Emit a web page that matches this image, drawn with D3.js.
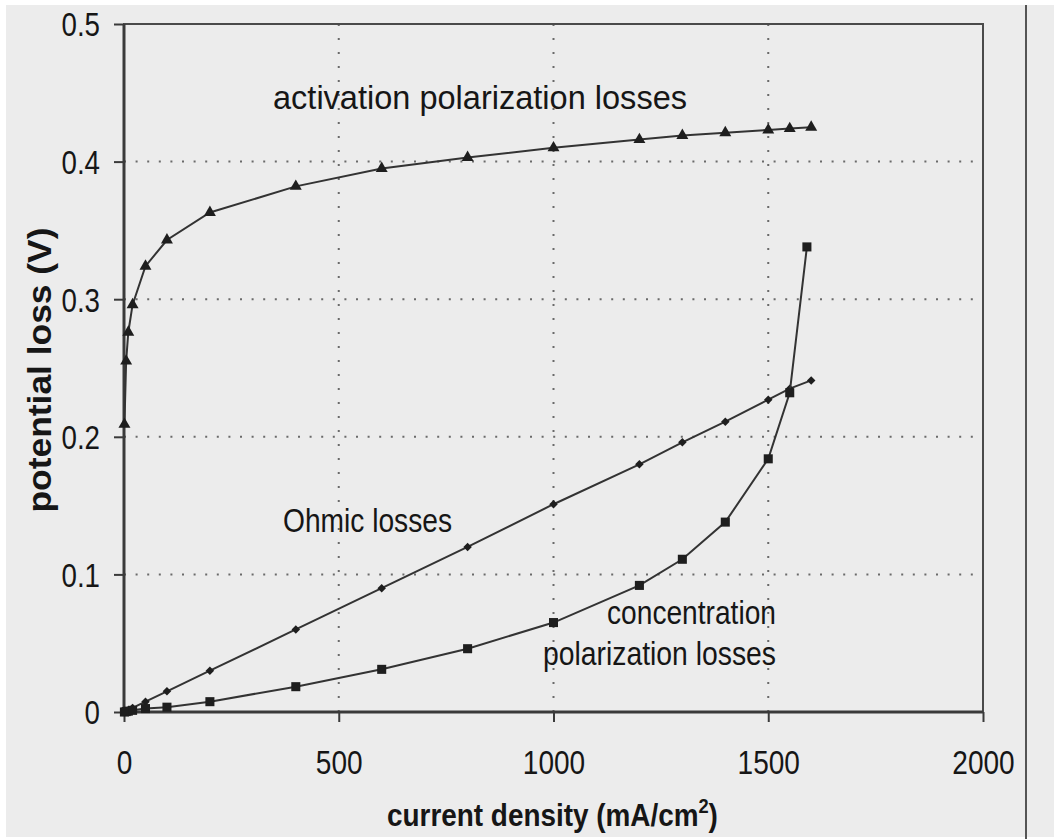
<!DOCTYPE html>
<html>
<head>
<meta charset="utf-8">
<script src="https://cdn.jsdelivr.net/npm/d3@7"></script>
<style>
  html, body { margin: 0; padding: 0; background: #ffffff; }
  svg { display: block; }
  text { font-family: "Liberation Sans", Arial, Helvetica, sans-serif; fill: #161616; }
</style>
</head>
<body>
<svg id="chart" width="1054" height="839"></svg>
<script>
// Potential loss (V) versus current density (mA/cm²) for the three loss mechanisms
const activationCurrent = [1, 5, 10, 20, 50, 100, 200, 400, 600, 800, 1000, 1200, 1300, 1400, 1500, 1550, 1600];
const activationLoss    = [0.209, 0.255, 0.276, 0.296, 0.324, 0.343, 0.363, 0.382, 0.395, 0.403, 0.410, 0.416, 0.419, 0.421, 0.423, 0.424, 0.425];

const ohmicCurrent = [1, 5, 10, 20, 50, 100, 200, 400, 600, 800, 1000, 1200, 1300, 1400, 1500, 1550, 1600];
const ohmicLoss    = [0.0002, 0.0008, 0.0015, 0.003, 0.0075, 0.015, 0.030, 0.060, 0.090, 0.120, 0.151, 0.180, 0.196, 0.211, 0.227, 0.235, 0.241];

const concentrationCurrent = [1, 5, 10, 20, 50, 100, 200, 400, 600, 800, 1000, 1200, 1300, 1400, 1500, 1550, 1590];
const concentrationLoss    = [0.0, 0.0003, 0.0006, 0.0012, 0.0025, 0.0035, 0.0075, 0.0184, 0.031, 0.046, 0.065, 0.092, 0.111, 0.138, 0.184, 0.232, 0.338];

const xTicks = [0, 500, 1000, 1500, 2000];
const yTicks = [0, 0.1, 0.2, 0.3, 0.4, 0.5];
const xGrid  = [500, 1000, 1500];
const yGrid  = [0.1, 0.2, 0.3, 0.4];

const xTitle = "current density (mA/cm";
const yTitle = "potential loss (V)";

// ---- layout ----
const svg = d3.select("#chart");
const W = 1054, H = 839;
const plotL = 124, plotR = 983, plotT = 24, plotB = 712;

const x = d3.scaleLinear().domain([0, 2000]).range([plotL, plotR]);
const y = d3.scaleLinear().domain([0, 0.5]).range([plotB, plotT]);

const ink = "#333333";

// page background: grey sheet with a thin white margin
svg.append("rect").attr("width", W).attr("height", H).attr("fill", "#ffffff");
svg.append("rect").attr("x", 6).attr("y", 5).attr("width", W - 6).attr("height", H - 7).attr("fill", "#ececec");

// ruled edge on the right of the sheet
svg.append("line")
  .attr("x1", 1026).attr("x2", 1026).attr("y1", 5).attr("y2", H)
  .attr("stroke", "#555").attr("stroke-width", 2);

// dotted grid
svg.append("g").selectAll("line").data(xGrid).join("line")
  .attr("x1", d => x(d)).attr("x2", d => x(d))
  .attr("y1", plotT).attr("y2", plotB)
  .attr("stroke", "#6a6a6a").attr("stroke-width", 2)
  .attr("stroke-dasharray", "2,12");
svg.append("g").selectAll("line").data(yGrid).join("line")
  .attr("x1", plotL).attr("x2", plotR)
  .attr("y1", d => y(d)).attr("y2", d => y(d))
  .attr("stroke", "#6a6a6a").attr("stroke-width", 2)
  .attr("stroke-dasharray", "2,9.6");

// plot frame
svg.append("rect")
  .attr("x", plotL).attr("y", plotT)
  .attr("width", plotR - plotL).attr("height", plotB - plotT)
  .attr("fill", "none").attr("stroke", "#4a4a4a").attr("stroke-width", 2);

// axes
const squeezeText = (sel, k) => sel.each(function () {
  const n = this.getComputedTextLength();
  d3.select(this).attr("textLength", n * k).attr("lengthAdjust", "spacingAndGlyphs");
});

const yAxis = svg.append("g")
  .attr("transform", `translate(${plotL},0)`)
  .call(d3.axisLeft(y).tickValues(yTicks).tickSize(10).tickSizeOuter(0)
    .tickFormat(d => d === 0 ? "0" : d3.format(".1f")(d)));
yAxis.select(".domain").remove();
yAxis.selectAll(".tick line").attr("stroke", "#3a3a3a").attr("stroke-width", 2);
yAxis.selectAll(".tick text")
  .attr("x", -24).attr("dy", "0.36em")
  .style("font-size", "33px").attr("fill", "#161616")
  .call(squeezeText, 0.84);

const xAxis = svg.append("g")
  .attr("transform", `translate(0,${plotB})`)
  .call(d3.axisBottom(x).tickValues(xTicks).tickSize(10).tickSizeOuter(0)
    .tickFormat(d3.format("d")));
xAxis.select(".domain").remove();
xAxis.selectAll(".tick line").attr("stroke", "#3a3a3a").attr("stroke-width", 2);
xAxis.selectAll(".tick text")
  .attr("y", 62).attr("dy", 0)
  .style("font-size", "33px").attr("fill", "#161616")
  .call(squeezeText, 0.85);

// heavier left and bottom axis lines
svg.append("line").attr("x1", plotL).attr("x2", plotL).attr("y1", plotT).attr("y2", plotB)
  .attr("stroke", "#3a3a3a").attr("stroke-width", 3);
svg.append("line").attr("x1", plotL).attr("x2", plotR).attr("y1", plotB).attr("y2", plotB)
  .attr("stroke", "#3a3a3a").attr("stroke-width", 3);

// series
const series = [
  { xs: activationCurrent,    ys: activationLoss,    symbol: d3.symbolTriangle, size: 62 },
  { xs: ohmicCurrent,         ys: ohmicLoss,         symbol: d3.symbolDiamond2, size: 46 },
  { xs: concentrationCurrent, ys: concentrationLoss, symbol: d3.symbolSquare,   size: 82 }
];

const line = d3.line().x(d => x(d[0])).y(d => y(d[1]));

series.forEach(s => {
  const pts = s.xs.map((v, i) => [v, s.ys[i]]);
  svg.append("path")
    .datum(pts)
    .attr("d", line)
    .attr("fill", "none")
    .attr("stroke", ink)
    .attr("stroke-width", 2);
  svg.append("g").selectAll("path").data(pts).join("path")
    .attr("transform", d => `translate(${x(d[0])},${y(d[1])})`)
    .attr("d", d3.symbol().type(s.symbol).size(s.size))
    .attr("fill", "#1e1e1e");
});

// curve annotations
const note = (txt, xPos, yPos, anchor, width) => {
  svg.append("text")
    .attr("x", xPos).attr("y", yPos)
    .attr("text-anchor", anchor)
    .style("font-size", "33px")
    .attr("textLength", width).attr("lengthAdjust", "spacingAndGlyphs")
    .text(txt);
};
note("activation polarization losses", 273, 109, "start", 414);
note("Ohmic losses", 283, 532, "start", 169);
note("concentration", 776, 624, "end", 169);
note("polarization losses", 776, 665, "end", 233);

// axis titles
svg.append("text")
  .attr("transform", "translate(51,370) rotate(-90)")
  .attr("text-anchor", "middle")
  .style("font-size", "33px").style("font-weight", "bold")
  .attr("textLength", 285).attr("lengthAdjust", "spacingAndGlyphs")
  .text(yTitle);

const xt = svg.append("text")
  .attr("text-anchor", "middle")
  .style("font-size", "32px").style("font-weight", "bold");
xt.append("tspan").text(xTitle);
xt.append("tspan").attr("dy", -13).style("font-size", "21px").text("2");
xt.append("tspan").attr("dy", 13).text(")");
const natural = xt.node().getBBox().width;
xt.attr("transform", `translate(552.5,826) scale(${331 / natural},1)`);
</script>
</body>
</html>
